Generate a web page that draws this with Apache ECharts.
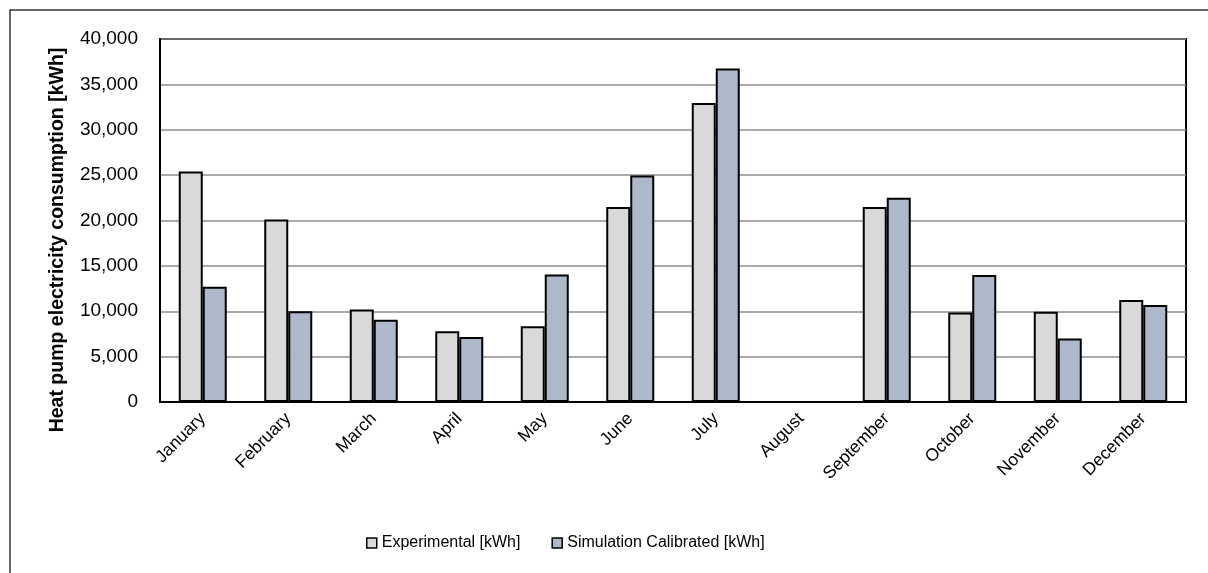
<!DOCTYPE html>
<html>
<head>
<meta charset="utf-8">
<script src="https://cdn.jsdelivr.net/npm/echarts@6/dist/echarts.min.js"></script>
<style>
  html, body { margin: 0; padding: 0; background: #fff; }
  #chart { width: 1208px; height: 573px; }
</style>
</head>
<body>
<div id="chart"></div>
<script>
// Monthly heat pump electricity consumption
const months = ['January', 'February', 'March', 'April', 'May', 'June',
                'July', 'August', 'September', 'October', 'November', 'December'];
const experimental = [25400, 20100, 10200, 7800, 8350, 21500, 32950, null, 21500, 9850, 9950, 11250];
const simulationCalibrated = [12700, 10000, 9050, 7150, 14050, 24950, 36750, null, 22500, 14000, 7000, 10700];
const seriesNames = ['Experimental [kWh]', 'Simulation Calibrated [kWh]'];
const yAxisTitle = 'Heat pump electricity consumption [kWh]';

const font = '"Liberation Sans", Arial, sans-serif';
const chart = echarts.init(document.getElementById('chart'), null, { renderer: 'canvas' });

chart.setOption({
  backgroundColor: '#ffffff',
  animation: false,
  graphic: [
    {
      // outer chart frame
      type: 'rect',
      x: 10, y: 10,
      shape: { x: 0, y: 0, width: 1400, height: 800 },
      style: { fill: 'none', stroke: '#333333', lineWidth: 1.5 },
      z: 0
    },
    {
      // vertical axis title
      type: 'text',
      x: 58, y: 240,
      rotation: Math.PI / 2,
      style: {
        text: yAxisTitle,
        fontFamily: font, fontSize: 19.5, fontWeight: 'bold', fill: '#000000',
        align: 'center', verticalAlign: 'middle'
      }
    }
  ],
  grid: {
    left: 160, right: 22, top: 39, bottom: 171,
    show: true, borderColor: '#000000', borderWidth: 2,
    containLabel: false
  },
  legend: {
    left: 361, top: 530,
    itemWidth: 10, itemHeight: 10, itemGap: 31,
    icon: 'rect',
    textStyle: { fontFamily: font, fontSize: 16, color: '#000000', padding: [0, 0, 0, 0] },
    itemStyle: { borderColor: '#000000', borderWidth: 1.5 },
    data: seriesNames
  },
  xAxis: {
    type: 'category',
    data: months,
    axisLine: { lineStyle: { color: '#000000', width: 2 } },
    axisTick: { show: false },
    axisLabel: {
      rotate: 45, margin: 14, interval: 0,
      fontFamily: font, fontSize: 17.5, color: '#000000'
    }
  },
  yAxis: {
    type: 'value',
    min: 0, max: 40000, interval: 5000,
    axisLine: { show: true, lineStyle: { color: '#000000', width: 2 } },
    axisTick: { show: false },
    axisLabel: {
      margin: 22,
      fontFamily: font, fontSize: 19, color: '#000000',
      formatter: v => v.toLocaleString('en-US')
    },
    splitLine: { lineStyle: { color: '#8c8c8c', width: 1.5 } }
  },
  series: [
    {
      name: seriesNames[0],
      type: 'bar',
      data: experimental,
      barWidth: 24,
      barGap: '0%',
      itemStyle: { color: '#d9d9d9', borderColor: '#000000', borderWidth: 2 }
    },
    {
      name: seriesNames[1],
      type: 'bar',
      data: simulationCalibrated,
      barWidth: 24,
      barGap: '0%',
      itemStyle: { color: '#adb9ca', borderColor: '#000000', borderWidth: 2 }
    }
  ]
});
</script>
</body>
</html>
